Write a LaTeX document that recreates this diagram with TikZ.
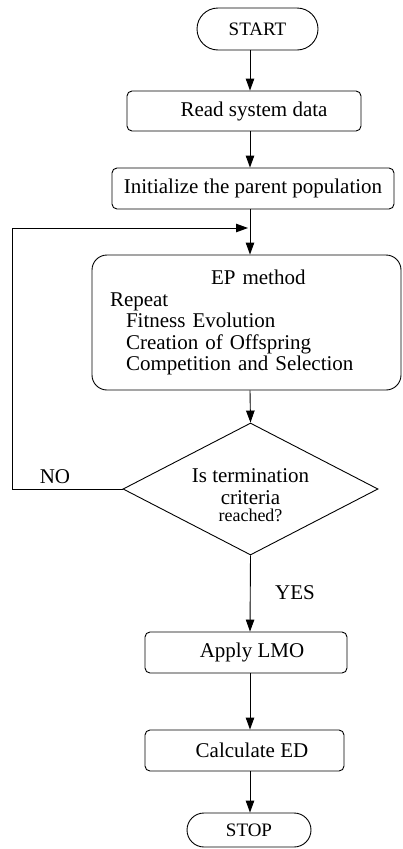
\documentclass[tikz,border=0pt]{standalone}
\usepackage{fontspec}
\setmainfont{Liberation Serif}
\usepackage{tikz}
\usetikzlibrary{arrows.meta}
\usetikzlibrary{shapes.geometric}

\begin{document}
\begin{tikzpicture}[x=1pt,y=-1pt,line width=0.9pt,
  font=\fontsize{21}{21.5}\selectfont,
  arr/.style={-{Triangle[length=12pt,width=8.5pt]}},
  terminal/.style={draw,rectangle,rounded corners=17pt,inner sep=1pt,font=\fontsize{19}{20}\selectfont},
  stepbox/.style={draw,rectangle,rounded corners=5pt,inner sep=1pt},
  decision/.style={draw,diamond,inner sep=0pt}]
\useasboundingbox (0,0) rectangle (402,849);
\coordinate (axis) at (250,0);
\node[terminal,minimum width=121pt,minimum height=42pt,rounded corners=21pt] (start) at (257.5,29) {START};
\node[stepbox,minimum width=234pt,minimum height=40pt] (rsd) at (244,111) {\hspace*{20pt}Read system data};
\node[stepbox,minimum width=282pt,minimum height=41pt] (init) at (253,188.5) {Initialize the parent population};
\node[stepbox,rounded corners=15pt,minimum width=309pt,minimum height=135pt,text width=273pt,align=left] (ep) at (246.5,322.5)
  {\hspace*{101pt}EP method\\Repeat\\\hspace*{16pt}Fitness Evolution\\\hspace*{16pt}Creation of Offspring\\\hspace*{16pt}Competition and Selection};
\node[decision,minimum width=255pt,minimum height=132pt] (term) at (250.5,489)
  {\raisebox{-14pt}[0pt][0pt]{\begin{tabular}{@{}c@{}}Is termination\\criteria\\[-4pt]{\fontsize{18}{18}\selectfont reached?}\end{tabular}}};
\node[stepbox,minimum width=202pt,minimum height=41pt] (lmo) at (246,652.5) {\hspace*{12pt}Apply LMO};
\node[stepbox,minimum width=199pt,minimum height=41pt] (ed) at (244.5,750.5) {\hspace*{15pt}Calculate ED};
\node[terminal,minimum width=124pt,minimum height=34pt] (stop) at (249,830) {STOP};
\node (no) at (55,477) {NO};
\node (yes) at (295,593) {YES};
% main column
\draw[arr] (start.south -| axis) -- (rsd.north -| axis);
\draw[arr] (rsd.south -| axis) -- (init.north -| axis);
\draw[arr] (init.south -| axis) -- (ep.north -| axis);
\draw[arr] (ep.south -| axis) -- (term.north);
\draw[arr] (term.south) -- (lmo.north -| axis);
\draw[arr] (lmo.south -| axis) -- (ed.north -| axis);
\draw[arr] (ed.south -| axis) -- (stop.north -| axis);
% loop back
\coordinate (back) at (12,228);
\coordinate (merge) at (250,228);
\draw[arr,shorten >=2pt] (term.west) -| (back) -- (merge);
\end{tikzpicture}
\end{document}
